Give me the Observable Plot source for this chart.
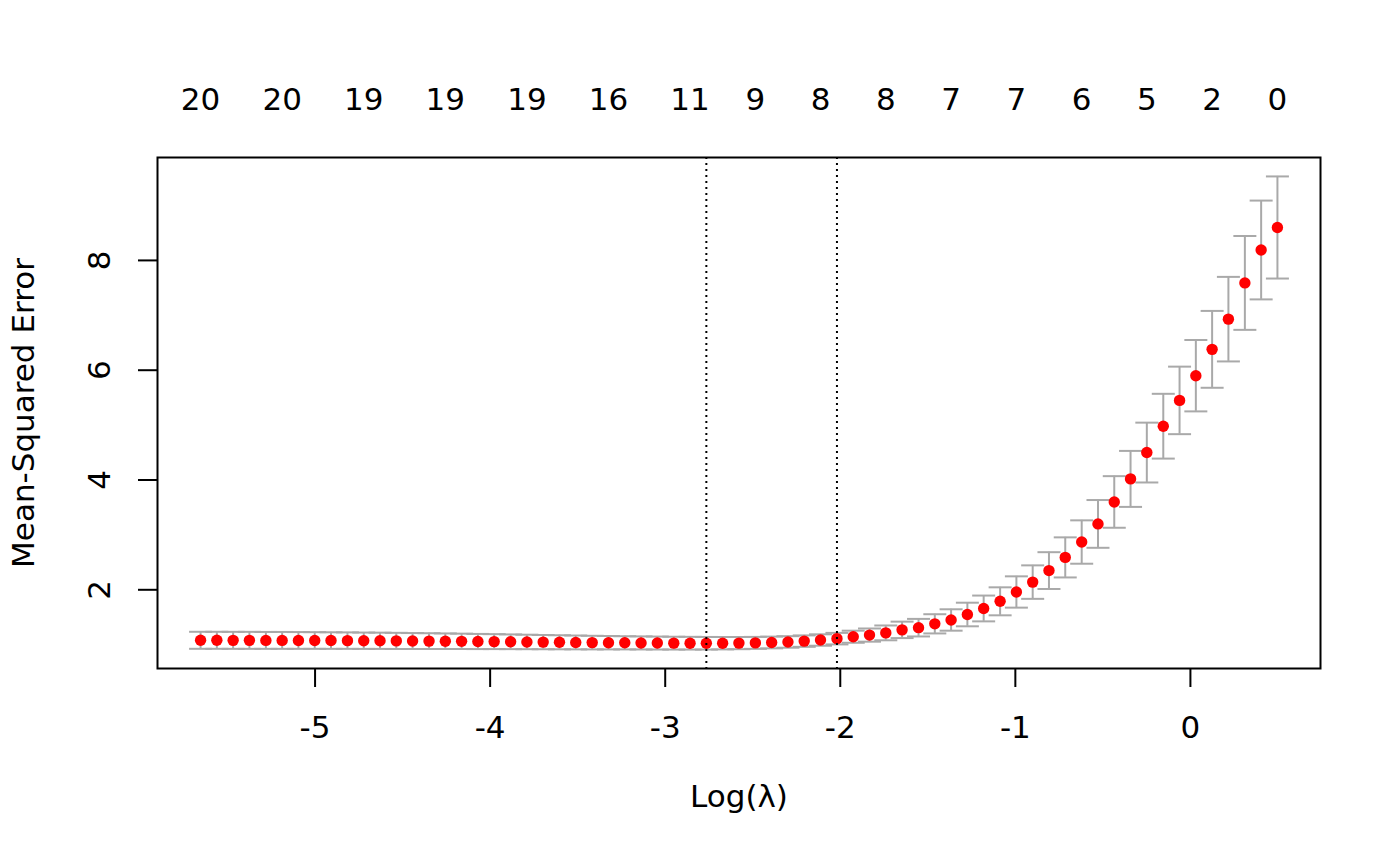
<!DOCTYPE html>
<html>
<head>
<meta charset="utf-8">
<script src="https://cdn.jsdelivr.net/npm/d3@7"></script>
<script src="https://cdn.jsdelivr.net/npm/@observablehq/plot@0.6"></script>
<style>
  body { margin: 0; background: #fff; }
  #chart-display svg { display: block; }
</style>
</head>
<body>
<div id="chart-display"></div>
<script>
// log(lambda) path, left to right
const logLambda = [
  -5.654, -5.561, -5.468, -5.375, -5.281, -5.188, -5.095, -5.002, -4.909, -4.815,
  -4.722, -4.629, -4.536, -4.443, -4.349, -4.256, -4.163, -4.070, -3.977, -3.883,
  -3.790, -3.697, -3.604, -3.511, -3.417, -3.324, -3.231, -3.138, -3.045, -2.951,
  -2.858, -2.765, -2.672, -2.579, -2.485, -2.392, -2.299, -2.206, -2.113, -2.019,
  -1.926, -1.833, -1.740, -1.647, -1.553, -1.460, -1.367, -1.274, -1.181, -1.087,
  -0.994, -0.901, -0.808, -0.715, -0.621, -0.528, -0.435, -0.342, -0.249, -0.155,
  -0.062, 0.031, 0.124, 0.217, 0.311, 0.404, 0.497
]

// cross-validated mean squared error
const cvm = [
  1.080, 1.080, 1.079, 1.079, 1.078, 1.078, 1.077, 1.076, 1.075, 1.074,
  1.072, 1.071, 1.069, 1.067, 1.065, 1.063, 1.061, 1.058, 1.056, 1.053,
  1.050, 1.047, 1.044, 1.041, 1.038, 1.036, 1.034, 1.032, 1.030, 1.028,
  1.027, 1.026, 1.027, 1.029, 1.033, 1.040, 1.050, 1.065, 1.085, 1.110,
  1.145, 1.175, 1.215, 1.270, 1.310, 1.380, 1.450, 1.550, 1.660, 1.790,
  1.960, 2.140, 2.350, 2.590, 2.870, 3.200, 3.600, 4.020, 4.500, 4.980,
  5.450, 5.900, 6.380, 6.930, 7.590, 8.190, 8.600
]

// standard error of cvm
const cvsd = [
  0.155, 0.155, 0.155, 0.155, 0.154, 0.154, 0.153, 0.152, 0.151, 0.150,
  0.149, 0.148, 0.147, 0.145, 0.144, 0.142, 0.140, 0.138, 0.136, 0.134,
  0.132, 0.130, 0.128, 0.126, 0.124, 0.122, 0.120, 0.119, 0.118, 0.117,
  0.116, 0.115, 0.113, 0.111, 0.109, 0.107, 0.105, 0.104, 0.104, 0.105,
  0.110, 0.120, 0.135, 0.150, 0.160, 0.175, 0.195, 0.215, 0.235, 0.255,
  0.285, 0.305, 0.335, 0.365, 0.395, 0.435, 0.470, 0.510, 0.545, 0.590,
  0.615, 0.650, 0.700, 0.770, 0.855, 0.900, 0.930
]

// number of nonzero coefficients shown along the top
const nzLambda = [-5.654, -5.188, -4.722, -4.256, -3.790, -3.324, -2.858, -2.485,
  -2.113, -1.740, -1.367, -0.994, -0.621, -0.249, 0.124, 0.497]
const nzCount = [20, 20, 19, 19, 19, 16, 11, 9, 8, 8, 7, 7, 6, 5, 2, 0]

const lambdaMinLog = -2.765
const lambda1seLog = -2.019

const xTicks = [-5, -4, -3, -2, -1, 0]
const yTicks = [2, 4, 6, 8]

const rows = logLambda.map((l, i) => ({
  lambda: l,
  mse: cvm[i],
  lo: cvm[i] - cvsd[i],
  hi: cvm[i] + cvsd[i]
}))

// R-style 4% padding on both axes
function pad(lo, hi) {
  const d = (hi - lo) * 0.04
  return [lo - d, hi + d]
}
const xDomain = pad(d3.min(logLambda), d3.max(logLambda))
const yDomain = pad(d3.min(rows, d => d.lo), d3.max(rows, d => d.hi))

const grey = "#a9a9a9"
const fs = 31
// flat bar end for the error bars
const cap = {
  draw(ctx) {
    ctx.moveTo(-11.5, 0)
    ctx.lineTo(11.5, 0)
  }
}

const txt = {fontSize: fs, textAnchor: "middle", lineAnchor: "middle", fill: "#000"}

const plot = Plot.plot({
  width: 1400,
  height: 865,
  marginLeft: 157,
  marginRight: 80,
  marginTop: 157,
  marginBottom: 197,
  x: {domain: xDomain},
  y: {domain: yDomain},
  style: {fontFamily: "DejaVu Sans", fontSize: "31px", background: "#fff", color: "#000"},
  marks: [
    Plot.axisX({ticks: xTicks, tickSize: 19, tickFormat: () => "", label: null, strokeWidth: 2}),
    Plot.text(xTicks, {...txt, x: d => d, text: d => String(d), frameAnchor: "bottom", dy: 60}),
    Plot.axisY({ticks: yTicks, tickSize: 19, tickFormat: () => "", label: null, strokeWidth: 2}),
    Plot.text(yTicks, {...txt, y: d => d, text: d => String(d), frameAnchor: "left", dx: -57, rotate: -90}),
    Plot.text(nzLambda, {...txt, x: d => d, text: (d, i) => String(nzCount[i]), frameAnchor: "top", dy: -57}),
    Plot.text(["Log(λ)"], {...txt, frameAnchor: "bottom", dy: 129}),
    Plot.text(["Mean-Squared Error"], {...txt, frameAnchor: "left", dx: -133, rotate: -90}),

    Plot.ruleX(rows, {x: "lambda", y1: "lo", y2: "hi", stroke: grey, strokeWidth: 2}),
    Plot.dot(rows, {x: "lambda", y: "hi", symbol: cap, fill: "none", stroke: grey, strokeWidth: 2}),
    Plot.dot(rows, {x: "lambda", y: "lo", symbol: cap, fill: "none", stroke: grey, strokeWidth: 2}),
    Plot.dot(rows, {x: "lambda", y: "mse", r: 5.7, fill: "#ff0000", stroke: null}),

    Plot.ruleX([lambdaMinLog, lambda1seLog], {stroke: "#000", strokeWidth: 2, strokeDasharray: "2,4"}),
    Plot.frame({stroke: "#000", strokeWidth: 2})
  ]
})

document.querySelector("#chart-display").append(plot)
</script>
</body>
</html>
